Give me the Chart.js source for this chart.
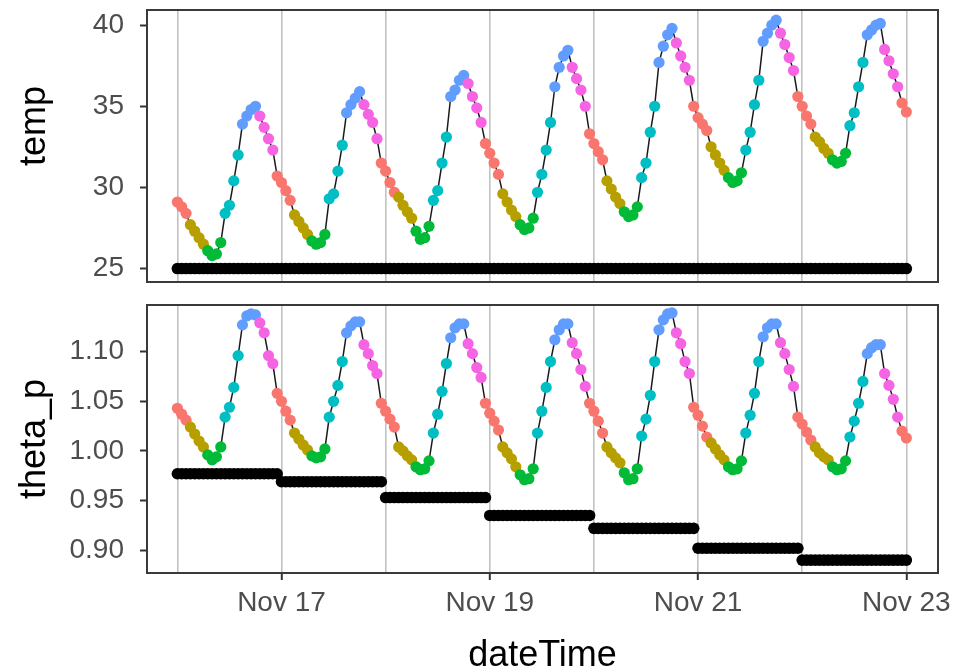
<!DOCTYPE html>
<html lang="en">
<head>
<meta charset="UTF-8">
<title>temp and theta_p by dateTime</title>
<script src="https://cdn.jsdelivr.net/npm/chart.js"></script>
<style>
  html, body { margin: 0; padding: 0; background: #fff; }
  #wrap { position: relative; width: 957px; height: 672px; }
  canvas { position: absolute; left: 0; }
  #tempChart { top: 0; }
  #thetaChart { top: 290px; }
</style>
</head>
<body>
<div id="wrap">
  <canvas id="tempChart" width="957" height="290"></canvas>
  <canvas id="thetaChart" width="957" height="382"></canvas>
</div>
<script>
// hourly readings, one array per day (00:00 .. 23:00), plus Nov 23 00:00
const tempNov16 = [29.1, 28.8, 28.4, 27.7, 27.3, 26.9, 26.5, 26.1, 25.8, 25.9, 26.6, 28.4, 28.9, 30.4, 32.0, 33.9, 34.4, 34.8, 35.0, 34.4, 33.7, 33.0, 32.3, 30.7];
const tempNov17 = [30.3, 29.8, 29.2, 28.3, 27.9, 27.5, 27.1, 26.7, 26.5, 26.6, 27.1, 29.3, 29.6, 31.0, 32.6, 34.6, 35.1, 35.5, 35.9, 35.1, 34.5, 34.0, 33.0, 31.5];
const tempNov18 = [31.0, 30.3, 29.7, 29.4, 28.9, 28.5, 28.1, 27.3, 26.8, 26.9, 27.6, 29.2, 29.8, 31.5, 33.1, 35.6, 36.0, 36.6, 36.9, 36.4, 35.6, 34.9, 34.0, 32.7];
const tempNov19 = [32.1, 31.5, 30.8, 29.6, 29.1, 28.6, 28.2, 27.7, 27.4, 27.5, 28.1, 29.7, 30.8, 32.3, 34.0, 36.2, 37.4, 38.1, 38.45, 37.4, 36.7, 36.0, 35.0, 33.3];
const tempNov20 = [32.7, 32.2, 31.7, 30.4, 29.9, 29.4, 29.0, 28.5, 28.2, 28.3, 28.8, 30.6, 31.5, 33.4, 35.0, 37.7, 38.7, 39.4, 39.8, 38.9, 38.1, 37.4, 36.6, 35.0];
const tempNov21 = [34.3, 33.9, 33.5, 32.5, 32.0, 31.5, 31.05, 30.6, 30.3, 30.4, 30.9, 32.3, 33.4, 35.1, 36.6, 39.0, 39.5, 40.0, 40.3, 39.5, 38.8, 38.0, 37.2, 35.6];
const tempNov22 = [35.0, 34.4, 33.9, 33.1, 32.8, 32.4, 32.1, 31.7, 31.5, 31.6, 32.1, 33.8, 34.6, 36.2, 37.7, 39.4, 39.7, 40.0, 40.1, 38.5, 37.8, 37.0, 36.2, 35.2];
const tempNov23 = [34.65];

const thetaNov16 = [1.043, 1.037, 1.031, 1.024, 1.017, 1.010, 1.004, 0.996, 0.991, 0.994, 1.004, 1.034, 1.044, 1.064, 1.096, 1.127, 1.136, 1.138, 1.137, 1.129, 1.119, 1.096, 1.088, 1.058];
const thetaNov17 = [1.050, 1.040, 1.031, 1.018, 1.012, 1.006, 1.001, 0.995, 0.993, 0.994, 1.002, 1.034, 1.050, 1.066, 1.090, 1.119, 1.126, 1.130, 1.130, 1.107, 1.098, 1.086, 1.078, 1.048];
const thetaNov18 = [1.040, 1.032, 1.024, 1.004, 1.000, 0.995, 0.991, 0.984, 0.981, 0.982, 0.990, 1.018, 1.037, 1.060, 1.088, 1.114, 1.124, 1.128, 1.128, 1.108, 1.098, 1.084, 1.074, 1.048];
const thetaNov19 = [1.038, 1.030, 1.021, 1.004, 0.998, 0.992, 0.984, 0.976, 0.971, 0.972, 0.982, 1.018, 1.040, 1.064, 1.090, 1.112, 1.122, 1.128, 1.128, 1.109, 1.098, 1.082, 1.065, 1.048];
const thetaNov20 = [1.040, 1.030, 1.018, 1.004, 0.998, 0.993, 0.988, 0.978, 0.971, 0.972, 0.982, 1.015, 1.032, 1.056, 1.090, 1.122, 1.132, 1.138, 1.139, 1.119, 1.108, 1.090, 1.078, 1.044];
const thetaNov21 = [1.036, 1.025, 1.014, 1.008, 1.002, 0.996, 0.991, 0.984, 0.981, 0.982, 0.990, 1.018, 1.036, 1.058, 1.090, 1.115, 1.124, 1.128, 1.128, 1.109, 1.098, 1.082, 1.065, 1.034];
const thetaNov22 = [1.027, 1.019, 1.011, 1.004, 0.998, 0.994, 0.991, 0.984, 0.981, 0.982, 0.990, 1.014, 1.030, 1.048, 1.070, 1.098, 1.104, 1.107, 1.107, 1.078, 1.066, 1.052, 1.034, 1.020];
const thetaNov23 = [1.013];

// black reference points: constant 25 for temp, one level per day for theta_p
const tempReference = 25;
const thetaReferenceByDay = [0.977, 0.969, 0.953, 0.935, 0.922, 0.902, 0.890];

const hourGroupColors = ['#F8766D', '#B79F00', '#00BA38', '#00BFC4', '#619CFF', '#F564E3'];
const dayGridHours = [0, 24, 48, 72, 96, 120, 144, 168];
const dateTickHours = [24, 72, 120, 168];
const dateTickLabels = ['Nov 17', 'Nov 19', 'Nov 21', 'Nov 23'];
const tempTicks = [25, 30, 35, 40];
const thetaTicks = [0.90, 0.95, 1.00, 1.05, 1.10];

const temp = [].concat(tempNov16, tempNov17, tempNov18, tempNov19, tempNov20, tempNov21, tempNov22, tempNov23);
const theta = [].concat(thetaNov16, thetaNov17, thetaNov18, thetaNov19, thetaNov20, thetaNov21, thetaNov22, thetaNov23);
const hours = temp.map((_, i) => i); // hours since Nov 16 00:00

const tempBase = hours.map(() => tempReference);
const thetaBase = hours.map(h => thetaReferenceByDay[Math.min(Math.floor(h / 24), 6)]);
// colour groups are 4-hour blocks of the day (23-03, 03-07, ...)
const pointColors = hours.map(h => hourGroupColors[Math.floor(((h + 1) % 24) / 4)]);

const family = "'Liberation Sans', Arial, sans-serif";

const panelBox = {
    id: 'panelBox',
    afterDraw(chart) {
        const { ctx, chartArea: a } = chart;
        ctx.save();
        ctx.strokeStyle = '#3a3a3a';
        ctx.lineWidth = 2;
        ctx.strokeRect(a.left, a.top, a.right - a.left, a.bottom - a.top);
        ctx.restore();
    }
};

function makePanel(id, values, base, yMin, yMax, yTicks, yTitle, fmt, isBottom) {
    const pts = hours.map((h, i) => ({ x: h, y: values[i] }));
    return new Chart(document.getElementById(id), {
        type: 'scatter',
        data: {
            datasets: [
                { data: pts, pointBackgroundColor: pointColors, pointBorderWidth: 0, pointRadius: 5.6 },
                { type: 'line', data: pts, borderColor: '#1a1a1a', borderWidth: 1.5, pointRadius: 0, fill: false, tension: 0 },
                { data: hours.map((h, i) => ({ x: h, y: base[i] })), pointBackgroundColor: '#000000', pointBorderWidth: 0, pointRadius: 5.8 }
            ]
        },
        options: {
            responsive: false,
            animation: false,
            devicePixelRatio: 1,
            layout: { padding: { left: 0, right: 19, top: isBottom ? 15 : 10, bottom: 0 } },
            plugins: { legend: { display: false }, tooltip: { enabled: false } },
            scales: {
                x: {
                    type: 'linear',
                    min: -7,
                    max: 175.3,
                    afterBuildTicks: a => { a.ticks = dayGridHours.map(v => ({ value: v })); },
                    afterFit: s => { s.height = isBottom ? 99 : 8; s.paddingLeft = 0; s.paddingRight = 0; },
                    border: { display: false },
                    grid: {
                        color: '#c2c2c2',
                        lineWidth: 1.6,
                        drawTicks: isBottom,
                        tickLength: 7,
                        tickWidth: 2,
                        tickColor: c => (c.tick && dateTickHours.includes(c.tick.value)) ? '#333333' : 'rgba(0,0,0,0)'
                    },
                    ticks: {
                        display: isBottom,
                        autoSkip: false,
                        maxRotation: 0,
                        padding: 6,
                        color: '#4d4d4d',
                        font: { family, size: 28 },
                        callback: v => {
                            const k = dateTickHours.indexOf(v);
                            return k < 0 ? '' : dateTickLabels[k];
                        }
                    },
                    title: { display: isBottom, text: 'dateTime', color: '#000', font: { family, size: 36, lineHeight: 0.9 }, padding: 0 }
                },
                y: {
                    min: yMin,
                    max: yMax,
                    afterBuildTicks: a => { a.ticks = yTicks.map(v => ({ value: v })); },
                    afterFit: s => { s.width = 147; s.paddingTop = 0; s.paddingBottom = 0; },
                    border: { display: false },
                    grid: { drawOnChartArea: false, tickLength: 7, tickWidth: 2, tickColor: '#333333' },
                    ticks: { padding: 16, color: '#4d4d4d', font: { family, size: 28 }, callback: fmt },
                    title: { display: true, text: yTitle, color: '#000', font: { family, size: 36 }, padding: { top: 13 } }
                }
            }
        },
        plugins: [panelBox]
    });
}

// leading spaces lift the rotated "temp" title a little, as in the reference
makePanel('tempChart', temp, tempBase, 24.17, 40.93, tempTicks, '    temp', v => String(v), false);
makePanel('thetaChart', theta, thetaBase, 0.877, 1.147, thetaTicks, 'theta_p', v => v.toFixed(2), true);
</script>
</body>
</html>
